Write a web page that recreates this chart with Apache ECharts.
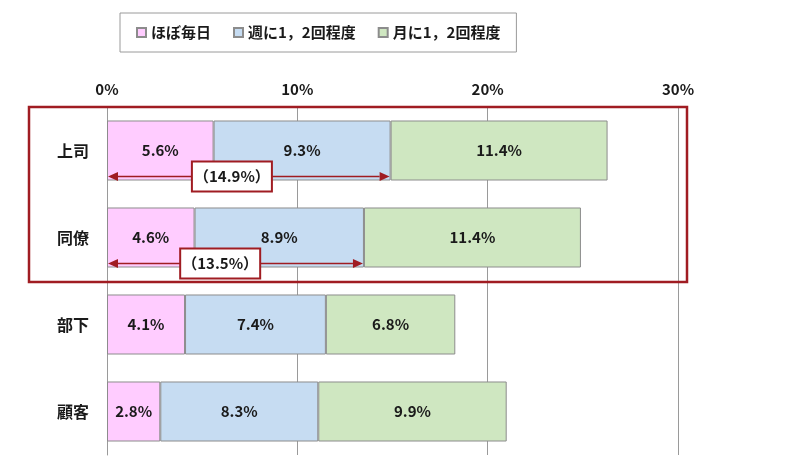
<!DOCTYPE html>
<html>
<head>
<meta charset="utf-8">
<script src="https://cdn.jsdelivr.net/npm/echarts@6/dist/echarts.min.js"></script>
<style>
  html, body { margin: 0; padding: 0; background: #fff; }
  #chart { width: 800px; height: 458px; }
</style>
</head>
<body>
<div id="chart"></div>
<script>
// 相手別の頻度（%）
const categories = ['上司', '同僚', '部下', '顧客']
const seriesNames = ['ほぼ毎日', '週に1，2回程度', '月に1，2回程度']
const daily = [5.6, 4.6, 4.1, 2.8]
const weekly = [9.3, 8.9, 7.4, 8.3]
const monthly = [11.4, 11.4, 6.8, 9.9]
// 週1回以上の合計（上司・同僚のみ矢印で表示）
const arrowTotals = [[14.9, 0], [13.5, 1]]
const xTicks = [0, 10, 20, 30]

const colors = ['#FFCCFF', '#C6DCF2', '#CFE7C1']
const font = '"Noto Sans CJK JP", "Noto Sans", sans-serif'
const darkRed = '#A01C22'

const chart = echarts.init(document.getElementById('chart'))

const barSeries = [daily, weekly, monthly].map((vals, i) => ({
  name: seriesNames[i],
  type: 'bar',
  stack: 'total',
  barCategoryGap: '31%',
  data: vals,
  itemStyle: { color: colors[i], borderColor: '#8c8c8c', borderWidth: 1 },
  label: {
    show: true,
    position: 'inside',
    formatter: '{c}%',
    fontFamily: font,
    fontWeight: 'bold',
    fontSize: 15,
    color: '#1a1a1a'
  },
  emphasis: { disabled: true }
}))

const arrowSeries = {
  type: 'custom',
  data: arrowTotals,
  encode: { x: 0, y: 1 },
  z: 10,
  silent: true,
  renderItem: (params, api) => {
    const val = api.value(0)
    const cat = api.value(1)
    const band = api.size([0, 1])[1]
    const p0 = api.coord([0, cat])
    const p1 = api.coord([val, cat])
    const y = p0[1] + band * 0.3
    const x0 = p0[0] + 1
    const x1 = p1[0] - 1
    const head = 10
    const mid = x0 + (x1 - x0) * 0.44
    const label = '（' + val.toFixed(1) + '%）'
    return {
      type: 'group',
      children: [
        { type: 'line', shape: { x1: x0 + head, y1: y, x2: x1 - head, y2: y },
          style: { stroke: darkRed, lineWidth: 1.5 } },
        { type: 'polygon', shape: { points: [[x0, y], [x0 + head, y - 4.5], [x0 + head, y + 4.5]] },
          style: { fill: darkRed } },
        { type: 'polygon', shape: { points: [[x1, y], [x1 - head, y - 4.5], [x1 - head, y + 4.5]] },
          style: { fill: darkRed } },
        { type: 'rect', shape: { x: mid - 40, y: y - 15, width: 80, height: 30 },
          style: { fill: '#fff', stroke: darkRed, lineWidth: 2 } },
        { type: 'text', x: mid, y: y,
          style: { text: label, fill: '#1a1a1a', font: 'bold 15px ' + font,
                   align: 'center', verticalAlign: 'middle' } }
      ]
    }
  }
}

chart.setOption({
  animation: false,
  legend: {
    data: seriesNames,
    left: 120,
    top: 13,
    padding: [12, 16],
    itemGap: 22,
    itemWidth: 9,
    itemHeight: 9,
    icon: 'rect',
    borderColor: '#9a9a9a',
    borderWidth: 1,
    textStyle: { fontFamily: font, fontWeight: 'bold', fontSize: 15, color: '#1a1a1a' }
  },
  grid: { left: 107, right: 122, top: 107, bottom: 3, containLabel: false },
  xAxis: {
    type: 'value',
    position: 'top',
    min: xTicks[0],
    max: xTicks[xTicks.length - 1],
    interval: 10,
    axisLine: { show: false },
    axisTick: { show: false },
    axisLabel: {
      formatter: '{value}%',
      margin: 10,
      fontFamily: font, fontWeight: 'bold', fontSize: 15, color: '#1a1a1a'
    },
    splitLine: { lineStyle: { color: '#9a9a9a', width: 1 } }
  },
  yAxis: {
    type: 'category',
    data: categories,
    inverse: true,
    axisLine: { lineStyle: { color: '#9a9a9a' } },
    axisTick: { length: 5, lineStyle: { color: '#9a9a9a' } },
    axisLabel: {
      margin: 18,
      fontFamily: font, fontWeight: 'bold', fontSize: 16, color: '#1a1a1a'
    }
  },
  series: [...barSeries, arrowSeries]
})

// 上司・同僚を囲む赤枠
const c0 = chart.convertToPixel({ yAxisIndex: 0 }, categories[0])
const c1 = chart.convertToPixel({ yAxisIndex: 0 }, categories[1])
const band = c1 - c0
const xMax = chart.convertToPixel({ xAxisIndex: 0 }, xTicks[xTicks.length - 1])
chart.setOption({
  graphic: [{
    type: 'rect',
    z: 20,
    silent: true,
    shape: { x: 29, y: c0 - band / 2, width: xMax + 9 - 29, height: band * 2 + 1 },
    style: { fill: 'none', stroke: darkRed, lineWidth: 2.5 }
  }]
})
</script>
</body>
</html>
